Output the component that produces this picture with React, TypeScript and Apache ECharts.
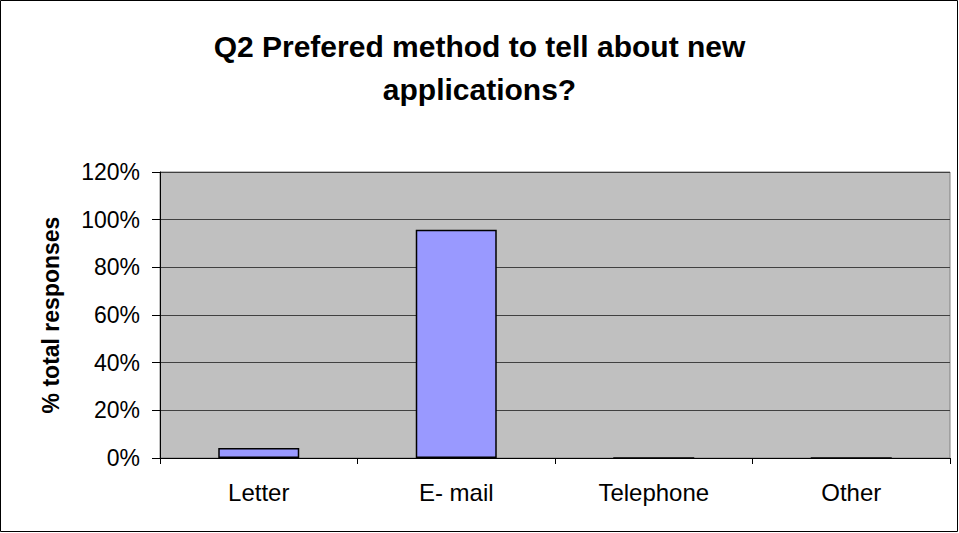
import React, { useEffect, useRef } from "react";
import * as echarts from "echarts";

const categories = ["Letter", "E- mail", "Telephone", "Other"];
const values = [4.2, 95.8, 0, 0];
const titleText = "Q2 Prefered method to tell about new\napplications?";
const yAxisName = "% total responses";

const FONT = "Liberation Sans, Arial, sans-serif";

export default function App() {
  const ref = useRef<HTMLDivElement>(null);
  useEffect(() => {
    document.body.style.margin = "0";
    const chart = echarts.init(ref.current!, null, { renderer: "svg" });
    chart.setOption({
      animation: false,
      backgroundColor: "#ffffff",
      textStyle: { fontFamily: FONT, color: "#000" },
      title: {
        text: titleText,
        left: "center",
        top: 25,
        padding: 0,
        textStyle: {
          fontFamily: FONT,
          fontWeight: "bold",
          fontSize: 30,
          lineHeight: 43,
          color: "#000",
        },
      },
      graphic: [
        {
          type: "rect",
          shape: { x: 0.5, y: 0.5, width: 957, height: 531 },
          style: { fill: "none", stroke: "#000", lineWidth: 1 },
          silent: true,
        },
      ],
      grid: {
        left: 160,
        right: 9,
        top: 172,
        bottom: 75,
        show: true,
        backgroundColor: "#C0C0C0",
        borderColor: "#808080",
        borderWidth: 1,
      },
      xAxis: {
        type: "category",
        data: categories,
        axisLine: { lineStyle: { color: "#000", width: 1 } },
        axisTick: { show: true, length: 6, interval: 0, lineStyle: { color: "#000" } },
        axisLabel: { color: "#000", fontSize: 24, margin: 22, interval: 0, fontFamily: FONT },
      },
      yAxis: {
        type: "value",
        min: 0,
        max: 120,
        interval: 20,
        name: yAxisName,
        nameLocation: "middle",
        nameGap: 98,
        nameRotate: 90,
        nameTextStyle: {
          fontFamily: FONT,
          fontWeight: "bold",
          fontSize: 23,
          color: "#000",
        },
        axisLine: { show: true, lineStyle: { color: "#000", width: 1 } },
        axisTick: { show: true, length: 8, lineStyle: { color: "#000" } },
        axisLabel: {
          color: "#000",
          fontSize: 23,
          margin: 20,
          formatter: (v: number) => `${v}%`,
          fontFamily: FONT,
        },
        splitLine: { show: true, lineStyle: { color: "#404040", width: 1 } },
      },
      series: [
        {
          type: "bar",
          data: values,
          barWidth: 81,
          itemStyle: { color: "#9999FF", borderColor: "#000", borderWidth: 1.5 },
        },
      ],
    });
    return () => chart.dispose();
  }, []);
  return <div ref={ref} style={{ width: 959, height: 533 }} />;
}
